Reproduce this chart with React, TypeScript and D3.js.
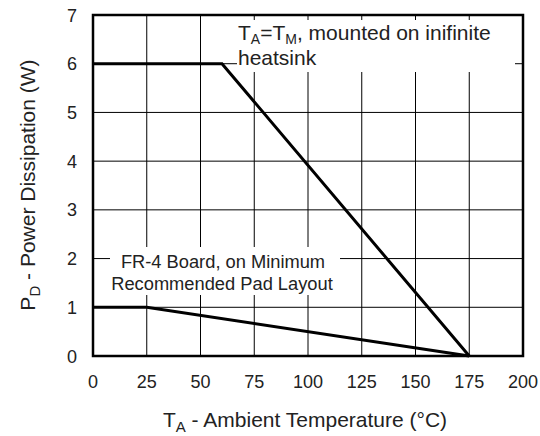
import React from "react";
import * as d3 from "d3";

const xTicks = [0, 25, 50, 75, 100, 125, 150, 175, 200];
const yTicks = [0, 1, 2, 3, 4, 5, 6, 7];
const heatsinkT = [0, 60, 175];
const heatsinkP = [6, 6, 0];
const boardT = [0, 25, 175];
const boardP = [1, 1, 0];

const W = 540, H = 436;
const M = { left: 93, right: 17, top: 15, bottom: 80 };
const FONT = "'Liberation Sans', Arial, Helvetica, sans-serif";

export default function App() {
  const x = d3.scaleLinear().domain([0, 200]).range([M.left, W - M.right]);
  const y = d3.scaleLinear().domain([0, 7]).range([H - M.bottom, M.top]);
  const line = d3.line<[number, number]>().x(d => x(d[0])).y(d => y(d[1]));
  const hs = heatsinkT.map((t, i) => [t, heatsinkP[i]] as [number, number]);
  const bd = boardT.map((t, i) => [t, boardP[i]] as [number, number]);
  return (
    <svg width={W} height={H} style={{ position: "absolute", left: 0, top: 0, background: "#fff" }} fontFamily={FONT}>
      <rect width={W} height={H} fill="#fff" />
      {xTicks.slice(1, -1).map(t => (
        <line key={"gx" + t} x1={x(t)} x2={x(t)} y1={y(0)} y2={y(7)} stroke="#000" strokeWidth={1} />
      ))}
      {yTicks.slice(1, -1).map(t => (
        <line key={"gy" + t} x1={x(0)} x2={x(200)} y1={y(t)} y2={y(t)} stroke="#000" strokeWidth={1} />
      ))}
      <rect x={237} y={20} width={278} height={52} fill="#fff" />
      <rect x={110} y={247} width={230} height={48} fill="#fff" />
      <path d={line(bd) || ""} fill="none" stroke="#000" strokeWidth={3} />
      <path d={line(hs) || ""} fill="none" stroke="#000" strokeWidth={3} />
      <rect x={x(0)} y={y(7)} width={x(200) - x(0)} height={y(0) - y(7)} fill="none" stroke="#000" strokeWidth={2.5} />
      <text x={238} y={40} fontSize={21} fill="#222">
        T<tspan fontSize={14} dy={4}>A</tspan><tspan dy={-4}>=T</tspan><tspan fontSize={14} dy={4}>M</tspan><tspan dy={-4}>, mounted on inifinite</tspan>
      </text>
      <text x={238} y={65} fontSize={21} fill="#222">heatsink</text>
      <text x={223} y={268} fontSize={18.3} fill="#222" textAnchor="middle">FR-4 Board, on Minimum</text>
      <text x={222} y={290} fontSize={18.3} fill="#222" textAnchor="middle">Recommended Pad Layout</text>
      {xTicks.map(t => (
        <text key={"xl" + t} x={x(t)} y={y(0) + 32} fontSize={18} textAnchor="middle" fill="#222">{t}</text>
      ))}
      {yTicks.map(t => (
        <text key={"yl" + t} x={77} y={y(t) + 6.5} fontSize={18} textAnchor="end" fill="#222">{t}</text>
      ))}
      <text x={305} y={427} fontSize={21} textAnchor="middle" fill="#222">
        T<tspan fontSize={15} dy={5}>A</tspan><tspan dy={-5}> - Ambient Temperature (°C)</tspan>
      </text>
      <text transform="translate(35,185) rotate(-90)" fontSize={21} textAnchor="middle" fill="#222">
        P<tspan fontSize={15} dy={5}>D</tspan><tspan dy={-5}> - Power Dissipation (W)</tspan>
      </text>
    </svg>
  );
}
